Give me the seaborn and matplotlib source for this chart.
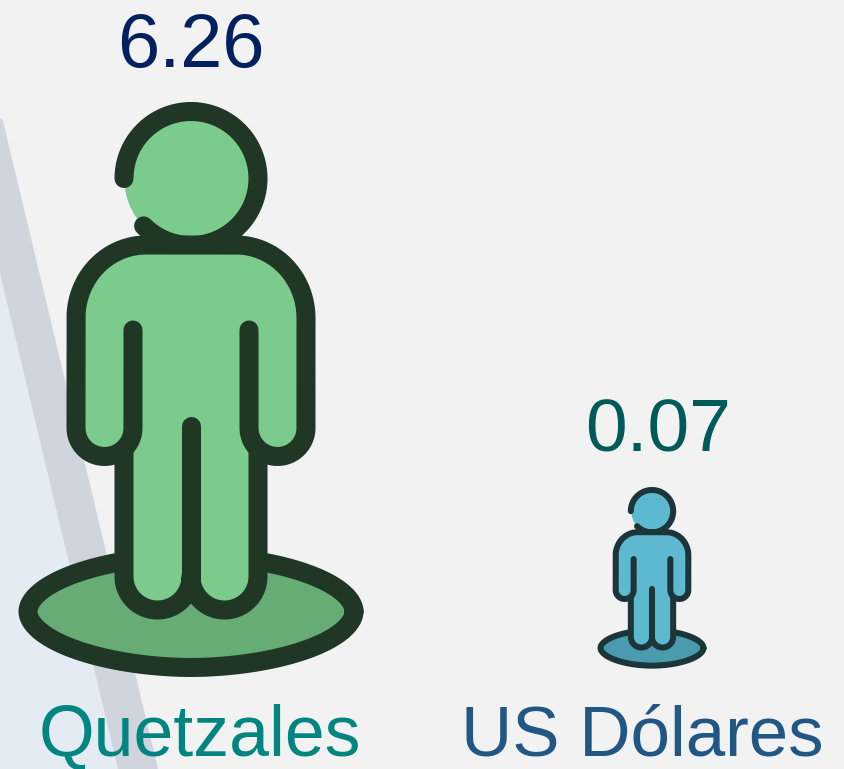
import numpy as np
import pandas as pd
import matplotlib
matplotlib.use('Agg')
import matplotlib.pyplot as plt
from matplotlib.patches import Polygon
import seaborn as sns

# Data
categories = ['Quetzales', 'US Dólares']
values = [6.26, 0.07]

# Icon placement and look, one entry per category
icon_x = [191, 652]
icon_bottom = [678, 669]
icon_scale = [1.0, 0.316]
value_x = [190.5, 658]
value_y = [67, 451]
value_size = [54.5, 54]
label_x = [199.5, 642]
label_y = 755
label_size = [51.6, 51]
fill_colors = ['#7BCC8C', '#5DB9CF']
base_colors = ['#67AB75', '#4B9BAF']
line_colors = ['#203725', '#1B3539']
value_colors = ['#002060', '#005A5A']
label_colors = ['#008580', '#215685']

sns.set_theme(style='white')
plt.rcParams['font.family'] = ['Liberation Sans', 'DejaVu Sans']

BG = '#F2F2F2'
fig = plt.figure(figsize=(8.44, 7.69), dpi=100, facecolor=BG)
ax = fig.add_axes([0, 0, 1, 1], facecolor=BG)


def arc(cx, cy, r, a0, a1, ry=None, n=60):
    # angles in degrees, y axis points down
    t = np.radians(np.linspace(a0, a1, n))
    return np.column_stack([cx + r * np.cos(t), cy + (ry or r) * np.sin(t)])


def plate_outline(cx, cy, rx, ry, p=1.9, n=400):
    # slightly pointed ellipse, like the plate under the figure
    t = np.linspace(0, 2 * np.pi, n)
    x = np.sign(np.cos(t)) * np.abs(np.cos(t)) ** (2 / p)
    y = np.sign(np.sin(t)) * np.abs(np.sin(t)) ** (2 / p)
    return np.column_stack([cx + rx * x, cy + ry * y])


def draw_icon(cx, bottom, s, fill, base, line):
    def place(pts):
        pts = np.asarray(pts, dtype=float)
        return np.column_stack([cx + s * pts[:, 0], bottom + s * (pts[:, 1] - 678)])

    def area(pts, color, z):
        ax.add_patch(Polygon(place(pts), closed=True, fc=color, ec='none', zorder=z))

    def stroke(pts, z):
        xy = place(pts)
        ax.plot(xy[:, 0], xy[:, 1], color=line, lw=13.7 * s, zorder=z,
                solid_capstyle='round', solid_joinstyle='round')

    # base plate
    plate = plate_outline(0, 611.5, 163, 56)
    area(plate, base, 2)
    stroke(plate, 3)

    # head: filled disc under an open ring, the body sits on top of both
    disc = pd.DataFrame({'x': [cx], 'y': [bottom + s * (178.5 - 678)]})
    sns.scatterplot(data=disc, x='x', y='y', color=fill, s=(134 * s * 0.72) ** 2,
                    linewidth=0, legend=False, zorder=3.4, ax=ax)
    stroke(arc(0, 178.5, 67, 180, 495, n=120), 3.5)

    # body: shoulders and arms in one outline, legs in another
    body = np.vstack([
        [[-58, 330]], arc(-86.5, 428, 28.5, 0, 180),
        arc(-45, 318, 70, 180, 270, ry=73), arc(45, 318, 70, 270, 360, ry=73),
        arc(86.5, 428, 28.5, 0, 180), [[58, 330]],
    ])
    legs = np.vstack([
        [[-67, 450]], arc(-33.5, 576.5, 33.5, 180, 0, n=40),
        arc(33.5, 576.5, 33.5, 180, 0, n=40), [[67, 450]],
    ])
    area(body, fill, 4)
    area(legs, fill, 4)
    area([[-67, 320], [67, 320], [67, 460], [-67, 460]], fill, 4)
    stroke(legs, 5)
    stroke([[0, 426], [0, 576]], 5)
    stroke(body, 6)


# background bands on the left
ax.add_patch(Polygon([[0, 273], [118, 769], [0, 769]], fc='#E4EBF3', ec='none', zorder=0))
ax.add_patch(Polygon([[0, 118], [3, 121], [158, 769], [118, 769], [0, 273]],
                     fc='#D0D5DD', ec='none', zorder=1))

for i, cat in enumerate(categories):
    draw_icon(icon_x[i], icon_bottom[i], icon_scale[i],
              fill_colors[i], base_colors[i], line_colors[i])
    ax.text(value_x[i], value_y[i], f'{values[i]:.2f}', color=value_colors[i],
            fontsize=value_size[i], ha='center', va='baseline', zorder=8)
    ax.text(label_x[i], label_y, cat, color=label_colors[i],
            fontsize=label_size[i], ha='center', va='baseline', zorder=8)

ax.set_xlim(0, 844)
ax.set_ylim(769, 0)
ax.axis('off')
fig.savefig('out.png', dpi=100, facecolor=BG)
